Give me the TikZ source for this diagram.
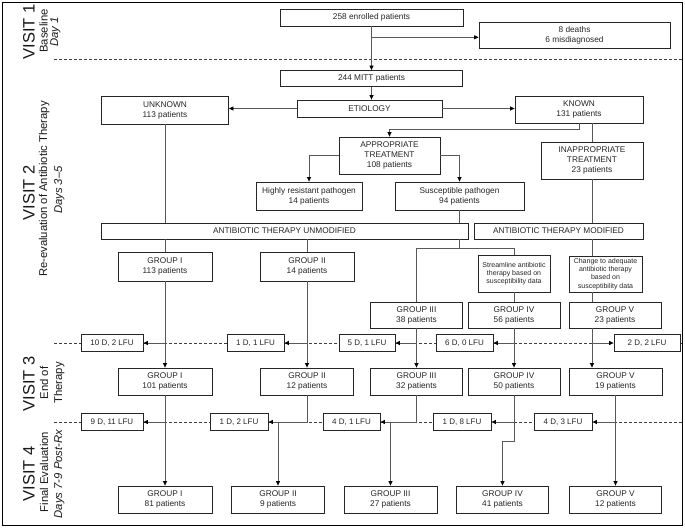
\documentclass[tikz,border=0pt]{standalone}
\usepackage{fontspec}
\setmainfont{Liberation Sans}
\usetikzlibrary{arrows.meta,calc}
\begin{document}
\begin{tikzpicture}[x=1pt,y=-1pt,
  box/.style={draw=black!85, line width=0.8pt, fill=white, inner sep=0pt, align=center, text=black!85, font=\fontsize{8.3}{10}\selectfont},
  sbox/.style={box, font=\fontsize{7}{8.2}\selectfont},
  lbox/.style={box, minimum height=17pt, font=\fontsize{8}{9.6}\selectfont},
  ln/.style={draw=black!65, line width=0.7pt},
  arr/.style={ln, -{Triangle[length=4.5pt,width=4pt,black]}},
  dline/.style={draw=black!75, line width=0.6pt, dash pattern=on 3pt off 2pt},
  vis/.style={rotate=90, anchor=base, font=\fontsize{16.5}{19}\selectfont, text=black!90},
  sub/.style={rotate=90, anchor=base, font=\fontsize{11.3}{13}\selectfont, text=black!90}
]
\useasboundingbox (0,0) rectangle (685,528);
\draw[line width=1.8pt] (2.5,2.5) rectangle (682.5,525.5);

% separators
\coordinate (d1a) at (54,59.5);  \coordinate (d1b) at (682,59.5);
\coordinate (d2a) at (54,343);   \coordinate (d2b) at (682,343);
\coordinate (d3a) at (54,422);   \coordinate (d3b) at (682,422);
\draw[dline] (d1a) -- (d1b);
\draw[dline] (d2a) -- (d2b);
\draw[dline] (d3a) -- (d3b);

% left labels
\node[vis] (v1) at (34.5,32) {VISIT 1};
\node[sub] (v1a) at (47.5,31) {Baseline};
\node[sub] (v1b) at (58,32) {\itshape Day 1};
\node[vis] (v2) at (34.5,193) {VISIT 2};
\node[sub] (v2a) at (47,189) {Re-evaluation of Antibiotic Therapy};
\node[sub] (v2b) at (62,190) {\itshape Days 3–5};
\node[vis] (v3) at (34.5,384) {VISIT 3};
\node[sub] (v3a) at (48,383) {End of};
\node[sub] (v3b) at (62,383) {Therapy};
\node[vis] (v4) at (34.5,474) {VISIT 4};
\node[sub] (v4a) at (48,472) {Final Evaluation};
\node[sub] (v4b) at (62,474) {\itshape Days 7-9 Post-Rx};

% visit 1 / 2 boxes
\node[box, minimum width=183pt, minimum height=17pt] (enr) at (371.5,17.5) {258 enrolled patients};
\node[box, minimum width=191pt, minimum height=26pt] (dth) at (574.5,35) {8 deaths\\6 misdiagnosed};
\node[box, minimum width=182pt, minimum height=16pt] (mitt) at (371.5,78.5) {244 MITT patients};
\node[box, minimum width=145pt, minimum height=17pt] (etio) at (369.5,108.5) {ETIOLOGY};
\node[box, minimum width=127pt, minimum height=28pt] (unk) at (165,110) {UNKNOWN\\113 patients};
\node[box, minimum width=128pt, minimum height=27pt] (kn) at (579,109.5) {KNOWN\\131 patients};
\node[box, minimum width=101pt, minimum height=37pt] (app) at (389.5,155.5) {APPROPRIATE\\TREATMENT\\108 patients};
\node[box, minimum width=102pt, minimum height=37pt] (inapp) at (592,160.5) {INAPPROPRIATE\\TREATMENT\\23 patients};
\node[box, minimum width=106pt, minimum height=28pt] (hr) at (309,196) {Highly resistant pathogen\\14 patients};
\node[box, minimum width=129pt, minimum height=28pt] (sus) at (459.5,196) {Susceptible pathogen\\94 patients};
\node[box, minimum width=367pt, minimum height=16pt] (unmod) at (284.5,231) {ANTIBIOTIC THERAPY UNMODIFIED};
\node[box, minimum width=169pt, minimum height=16pt] (mod) at (558.5,231) {ANTIBIOTIC THERAPY MODIFIED};

\node[box, minimum width=94pt, minimum height=29pt] (g1a) at (165,266.5) {GROUP I\\113 patients};
\node[box, minimum width=94pt, minimum height=29pt] (g2a) at (307,266.5) {GROUP II\\14 patients};
\node[sbox, minimum width=72pt, minimum height=37pt] (strm) at (514,273.5) {Streamline antibiotic\\therapy based on\\susceptibility data};
\node[sbox, minimum width=73pt, minimum height=36pt] (chg) at (605.5,274) {Change to adequate\\antibiotic therapy\\based on\\susceptibility data};
\node[box, minimum width=92pt, minimum height=26pt] (g3a) at (416.5,315) {GROUP III\\38 patients};
\node[box, minimum width=92pt, minimum height=26pt] (g4a) at (514,315) {GROUP IV\\56 patients};
\node[box, minimum width=92pt, minimum height=26pt] (g5a) at (615,315) {GROUP V\\23 patients};

% losses visit 2 -> 3
\node[lbox, minimum width=62pt] (l1a) at (112,343) {10 D, 2 LFU};
\node[lbox, minimum width=57pt] (l2a) at (255.5,343) {1 D, 1 LFU};
\node[lbox, minimum width=56pt] (l3a) at (367,343) {5 D, 1 LFU};
\node[lbox, minimum width=57pt] (l4a) at (464.5,343) {6 D, 0 LFU};
\node[lbox, minimum width=66pt] (l5a) at (647,343) {2 D, 2 LFU};

% visit 3
\node[box, minimum width=94pt, minimum height=27pt] (g1b) at (165,381.5) {GROUP I\\101 patients};
\node[box, minimum width=93pt, minimum height=27pt] (g2b) at (307,381.5) {GROUP II\\12 patients};
\node[box, minimum width=92pt, minimum height=27pt] (g3b) at (416.5,381.5) {GROUP III\\32 patients};
\node[box, minimum width=92pt, minimum height=27pt] (g4b) at (514,381.5) {GROUP IV\\50 patients};
\node[box, minimum width=93pt, minimum height=27pt] (g5b) at (615.5,381.5) {GROUP V\\19 patients};

% losses visit 3 -> 4
\node[lbox, minimum width=62pt] (l1b) at (112,422) {9 D, 11 LFU};
\node[lbox, minimum width=58pt] (l2b) at (239,422) {1 D, 2 LFU};
\node[lbox, minimum width=57pt] (l3b) at (351.5,422) {4 D, 1 LFU};
\node[lbox, minimum width=58pt] (l4b) at (462,422) {1 D, 8 LFU};
\node[lbox, minimum width=58pt] (l5b) at (563,422) {4 D, 3 LFU};

% visit 4
\node[box, minimum width=94pt, minimum height=27pt] (g1c) at (165,499.5) {GROUP I\\81 patients};
\node[box, minimum width=93pt, minimum height=27pt] (g2c) at (278,499.5) {GROUP II\\9 patients};
\node[box, minimum width=93pt, minimum height=27pt] (g3c) at (390.5,499.5) {GROUP III\\27 patients};
\node[box, minimum width=92pt, minimum height=27pt] (g4c) at (502.5,499.5) {GROUP IV\\41 patients};
\node[box, minimum width=92pt, minimum height=27pt] (g5c) at (615.5,499.5) {GROUP V\\12 patients};

% connectors top
\coordinate (dj) at (371.5,37.3);
\draw[arr] (enr.south) -- (mitt.north);
\draw[arr] (dj) -- (dj -| dth.west);
\draw[arr] (mitt.south) -- (mitt.south |- etio.north);
\draw[arr] (etio.west) -- (etio.west -| unk.east);
\draw[arr] (etio.east) -- (etio.east -| kn.west);
\draw[ln] (unk.south) -- (unk.south |- unmod.north);
\coordinate (kj) at (579,129);
\draw[arr] (kn.south) -- (kj) -| (app.north);
\draw[ln] (kn.south -| inapp.north) -- (inapp.north);
\draw[arr] (app.west) -| (hr.north);
\draw[arr] (app.east) -| (sus.north);
\draw[ln] (sus.south) -- (sus.south |- unmod.north);
\draw[ln] (inapp.south) -- (inapp.south |- mod.north);

% below therapy boxes
\draw[ln] (unmod.south -| g1a.north) -- (g1a.north);
\draw[ln] (unmod.south -| g2a.north) -- (g2a.north);
\coordinate (sj) at (459.5,248.3);
\draw[ln] (unmod.south -| sj) -- (sj);
\draw[ln] (g3a.north) |- (sj) -| (strm.north);
\draw[ln] (strm.south) -- (strm.south |- g4a.north);
\draw[ln] (inapp.south |- mod.south) -- (inapp.south |- chg.north);
\draw[ln] (inapp.south |- chg.south) -- (inapp.south |- g5a.north);

% visit 2 -> 3
\draw[arr] (g1a.south) -- (g1b.north);
\draw[arr] (g1a.south |- l1a.east) -- (l1a.east);
\draw[arr] (g2a.south) -- (g2b.north);
\draw[arr] (g2a.south |- l2a.east) -- (l2a.east);
\draw[arr] (g3a.south) -- (g3b.north);
\draw[arr] (g3a.south |- l3a.east) -- (l3a.east);
\draw[arr] (g4a.south) -- (g4b.north);
\draw[arr] (g4a.south |- l4a.east) -- (l4a.east);
\draw[arr] (inapp.south |- g5a.south) -- (inapp.south |- g5b.north);
\draw[arr] (inapp.south |- l5a.west) -- (l5a.west);

% visit 3 -> 4
\draw[arr] (g1b.south) -- (g1c.north);
\draw[arr] (g1b.south |- l1b.east) -- (l1b.east);
\draw[ln] (g2b.south) |- (g2c.north |- l2b.east);
\draw[arr] (g2c.north |- l2b.east) -- (l2b.east);
\draw[arr] (g2c.north |- l2b.east) -- (g2c.north);
\draw[ln] (g3b.south) |- (g3c.north |- l3b.east);
\draw[arr] (g3c.north |- l3b.east) -- (l3b.east);
\draw[arr] (g3c.north |- l3b.east) -- (g3c.north);
\coordinate (k4) at (502.5,441);
\draw[arr] (g4b.south) |- (k4) -- (g4c.north);
\draw[arr] (g4b.south |- l4b.east) -- (l4b.east);
\draw[arr] (g5b.south) -- (g5c.north);
\draw[arr] (g5b.south |- l5b.east) -- (l5b.east);
\end{tikzpicture}
\end{document}
